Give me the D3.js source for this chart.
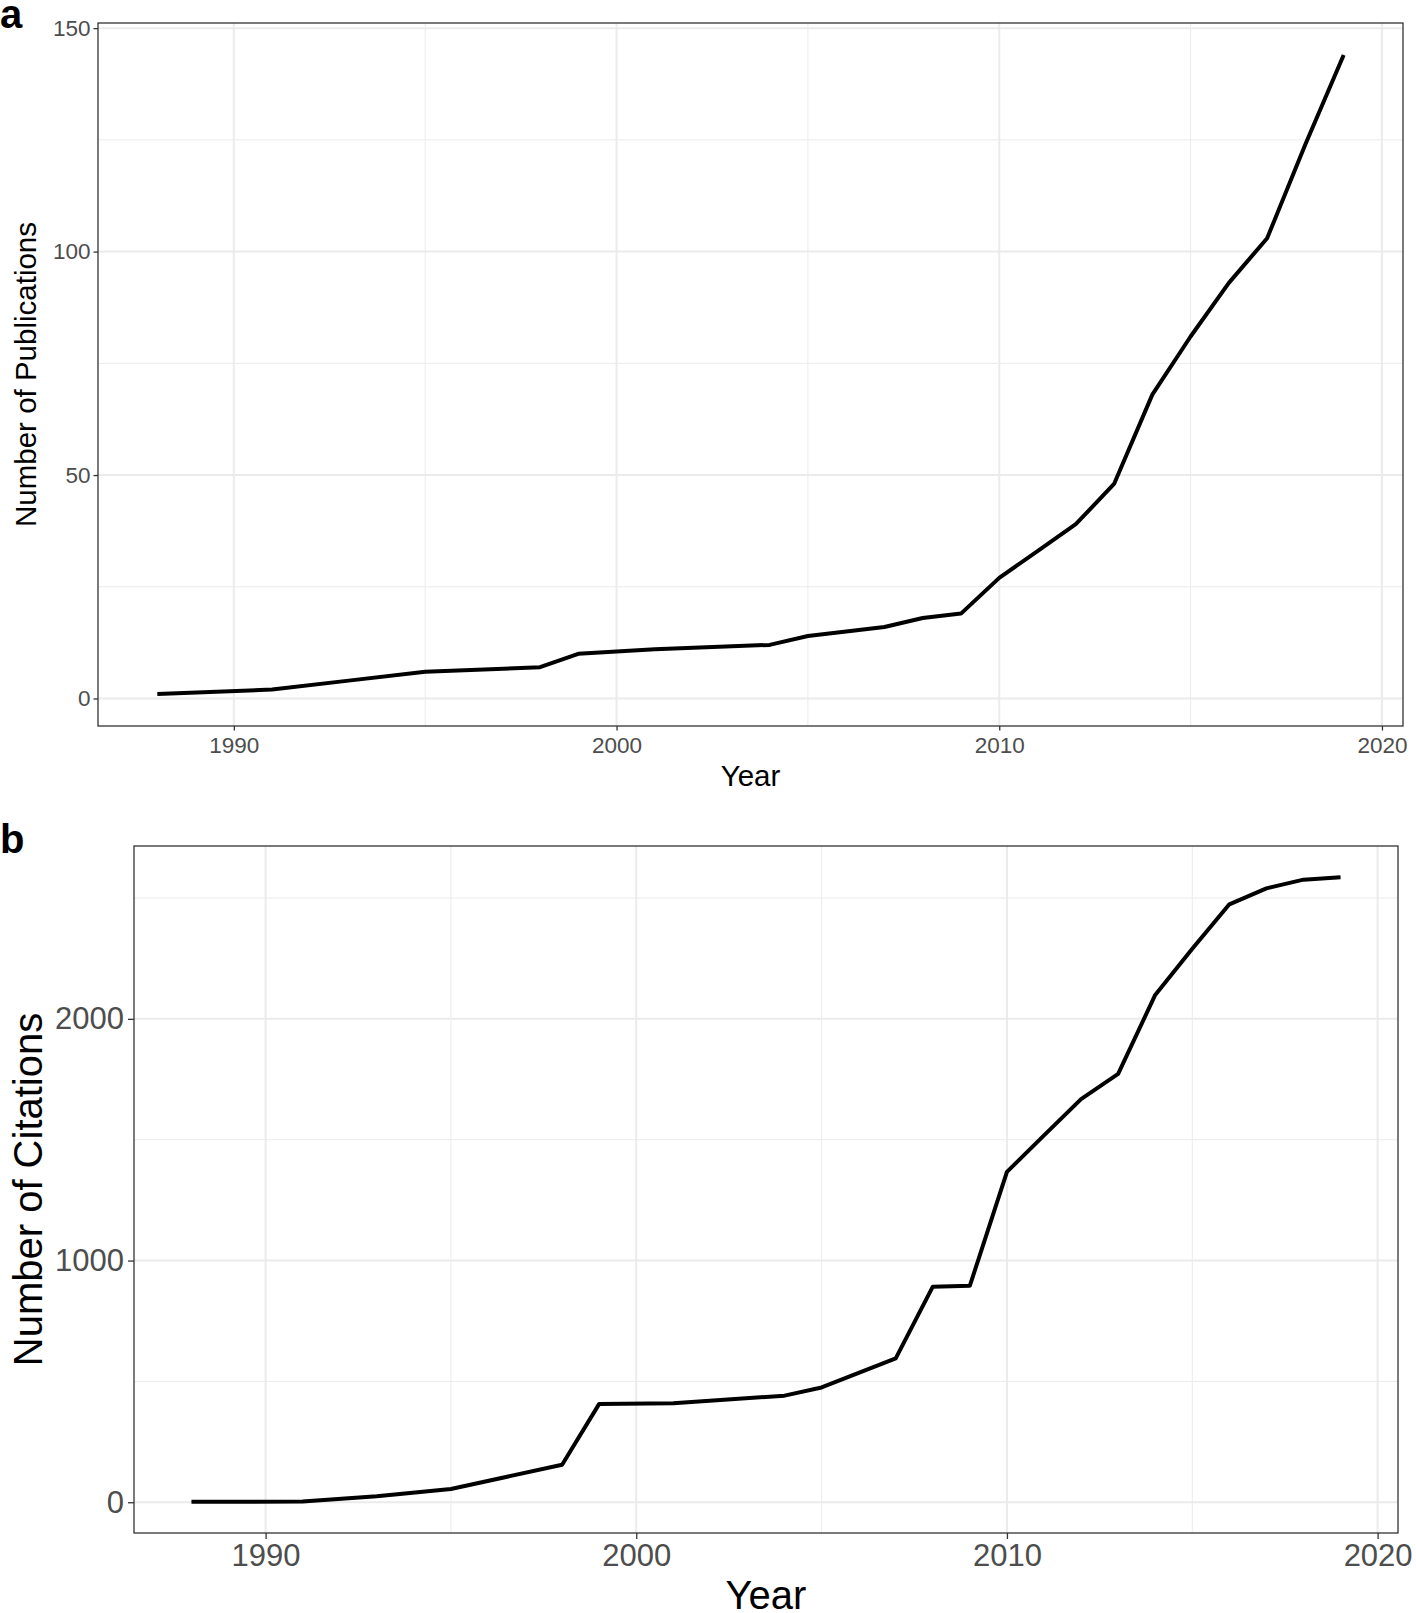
<!DOCTYPE html>
<html>
<head>
<meta charset="utf-8">
<script src="https://cdn.jsdelivr.net/npm/d3@7"></script>
<style>
    body { margin: 0; background: #fff; }
    svg { display: block; font-family: "Liberation Sans", Arial, sans-serif; }
</style>
</head>
<body>
<div id="chart"></div>
<script>
// Panel a: cumulative publications per year
const pubYears = [1988, 1991, 1993, 1995, 1998, 1999, 2001, 2004, 2005, 2007, 2008, 2009,
    2010, 2011, 2012, 2013, 2014, 2015, 2016, 2017, 2018, 2019];
const pubCounts = [1, 2, 4, 6, 7, 10, 11, 12, 14, 16, 18, 19,
    27, 33, 39, 48, 68, 81, 93, 103, 124, 144];

// Panel b: cumulative citations per year
const citeYears = [1988, 1991, 1993, 1995, 1998, 1999, 2001, 2004, 2005, 2007, 2008, 2009,
    2010, 2011, 2012, 2013, 2014, 2015, 2016, 2017, 2018, 2019];
const citeCounts = [2, 3, 25, 55, 155, 407, 410, 441, 475, 595, 892, 896,
    1367, 1518, 1668, 1772, 2099, 2290, 2474, 2540, 2576, 2586];

const xTicks = [1990, 2000, 2010, 2020];
const xMinor = [1995, 2005, 2015];
const pubTicks = [0, 50, 100, 150];
const pubMinor = [25, 75, 125];
const citeTicks = [0, 1000, 2000];
const citeMinor = [500, 1500, 2500];

/**
 * ggplot-like expanded domain (5% on each side)
 */
function expanded(values) {
    const [lo, hi] = d3.extent(values);
    const pad = (hi - lo) * 0.05;
    return [lo - pad, hi + pad];
}

/**
 * Draws one theme_bw style line panel
 * @param {Object} svg - d3 selection of the root svg
 * @param {Object} opt - layout of the panel
 */
function drawPanel(svg, opt) {
    const x = d3.scaleLinear().domain(expanded(opt.years)).range([opt.left, opt.right]);
    const y = d3.scaleLinear().domain(expanded(opt.values)).range([opt.bottom, opt.top]);

    const g = svg.append('g');

    // Minor grid
    g.append('g').selectAll('line')
        .data(opt.xMinor).enter().append('line')
        .attr('x1', d => x(d)).attr('x2', d => x(d))
        .attr('y1', opt.top).attr('y2', opt.bottom)
        .attr('stroke', '#ebebeb').attr('stroke-width', 1);
    g.append('g').selectAll('line')
        .data(opt.yMinor).enter().append('line')
        .attr('x1', opt.left).attr('x2', opt.right)
        .attr('y1', d => y(d)).attr('y2', d => y(d))
        .attr('stroke', '#ebebeb').attr('stroke-width', 1);

    // Major grid
    g.append('g').selectAll('line')
        .data(opt.xTicks).enter().append('line')
        .attr('x1', d => x(d)).attr('x2', d => x(d))
        .attr('y1', opt.top).attr('y2', opt.bottom)
        .attr('stroke', '#ebebeb').attr('stroke-width', 2);
    g.append('g').selectAll('line')
        .data(opt.yTicks).enter().append('line')
        .attr('x1', opt.left).attr('x2', opt.right)
        .attr('y1', d => y(d)).attr('y2', d => y(d))
        .attr('stroke', '#ebebeb').attr('stroke-width', 2);

    // Data line
    const pts = opt.years.map((yr, i) => [yr, opt.values[i]]);
    g.append('path')
        .datum(pts)
        .attr('fill', 'none')
        .attr('stroke', '#000')
        .attr('stroke-width', 4)
        .attr('stroke-linejoin', 'round')
        .attr('d', d3.line().x(d => x(d[0])).y(d => y(d[1])));

    // Panel border
    g.append('rect')
        .attr('x', opt.left).attr('y', opt.top)
        .attr('width', opt.right - opt.left).attr('height', opt.bottom - opt.top)
        .attr('fill', 'none').attr('stroke', '#333').attr('stroke-width', 1.3);

    // Axes
    const xAxis = g.append('g')
        .attr('transform', `translate(0,${opt.bottom})`)
        .call(d3.axisBottom(x).tickValues(opt.xTicks).tickSize(opt.tickLen)
            .tickPadding(opt.xPad).tickFormat(d3.format('d')));
    const yAxis = g.append('g')
        .attr('transform', `translate(${opt.left},0)`)
        .call(d3.axisLeft(y).tickValues(opt.yTicks).tickSize(opt.tickLen)
            .tickPadding(opt.yPad).tickFormat(d3.format('d')));

    [xAxis, yAxis].forEach(ax => {
        ax.select('.domain').remove();
        ax.selectAll('.tick line').attr('stroke', '#333').attr('stroke-width', 1.3);
        ax.selectAll('.tick text')
            .attr('fill', '#4d4d4d')
            .attr('font-size', opt.tickFont + 'px')
            .attr('font-family', '"Liberation Sans", Arial, sans-serif');
    });

    // Axis titles
    g.append('text')
        .attr('x', (opt.left + opt.right) / 2)
        .attr('y', opt.xTitleY)
        .attr('text-anchor', 'middle')
        .attr('font-size', opt.titleFont + 'px')
        .text('Year');
    g.append('text')
        .attr('transform', `translate(${opt.yTitleX},${(opt.top + opt.bottom) / 2}) rotate(-90)`)
        .attr('text-anchor', 'middle')
        .attr('font-size', opt.titleFont + 'px')
        .text(opt.yTitle);

    // Panel tag
    g.append('text')
        .attr('x', 0)
        .attr('y', opt.tagY)
        .attr('font-size', '40px')
        .attr('font-weight', 'bold')
        .text(opt.tag);
}

const svg = d3.select('#chart')
    .append('svg')
    .attr('width', 1416)
    .attr('height', 1613);

drawPanel(svg, {
    years: pubYears, values: pubCounts,
    xTicks: xTicks, xMinor: xMinor, yTicks: pubTicks, yMinor: pubMinor,
    left: 98, right: 1403, top: 23, bottom: 726,
    tickLen: 4.5, xPad: 7, yPad: 3, tickFont: 22.5, titleFont: 29.5,
    xTitleY: 786, yTitleX: 36, yTitle: 'Number of Publications',
    tag: 'a', tagY: 28
});

drawPanel(svg, {
    years: citeYears, values: citeCounts,
    xTicks: xTicks, xMinor: xMinor, yTicks: citeTicks, yMinor: citeMinor,
    left: 134, right: 1398, top: 846, bottom: 1533,
    tickLen: 6, xPad: 5, yPad: 4, tickFont: 31, titleFont: 40,
    xTitleY: 1609, yTitleX: 42, yTitle: 'Number of Citations',
    tag: 'b', tagY: 853
});
</script>
</body>
</html>
